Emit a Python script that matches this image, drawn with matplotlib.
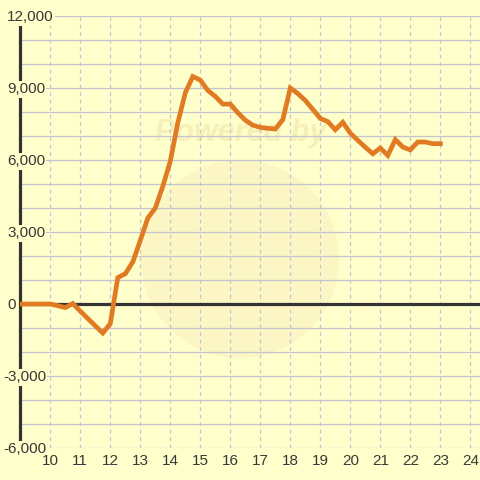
import matplotlib
matplotlib.use('Agg')
import matplotlib.pyplot as plt
from matplotlib.patches import Circle

hours = [9.0, 9.25, 9.5, 9.75, 10.0, 10.25, 10.5, 10.75, 11.0, 11.25, 11.5, 11.75,
         12.0, 12.25, 12.5, 12.75, 13.0, 13.25, 13.5, 13.75, 14.0, 14.25, 14.5, 14.75,
         15.0, 15.25, 15.5, 15.75, 16.0, 16.25, 16.5, 16.75, 17.0, 17.25, 17.5, 17.75,
         18.0, 18.25, 18.5, 18.75, 19.0, 19.25, 19.5, 19.75, 20.0, 20.25, 20.5, 20.75,
         21.0, 21.25, 21.5, 21.75, 22.0, 22.25, 22.5, 22.75, 23.0]
values = [0, 0, 0, 0, 0, -70, -150, 20, -300, -605, -910, -1210,
          -820, 1100, 1260, 1750, 2650, 3580, 4000, 4900, 5950, 7550, 8800, 9480,
          9330, 8900, 8650, 8330, 8330, 7970, 7660, 7450, 7360, 7320, 7290, 7680,
          9000, 8770, 8480, 8110, 7730, 7600, 7260, 7570, 7120, 6820, 6530, 6260,
          6500, 6190, 6850, 6540, 6420, 6750, 6750, 6680, 6680]
x_ticks = list(range(10, 25))
y_grid = list(range(-6000, 12001, 1000))
y_labels = [-6000, -3000, 0, 3000, 6000, 9000, 12000]

BG = '#FFFFCC'
TXT = '#383838'
GRID = '#C4C4CC'
plt.rcParams['font.family'] = ['Liberation Sans', 'DejaVu Sans']

fig = plt.figure(figsize=(4.8, 4.8), dpi=100, facecolor=BG)
W = 480.0

ax = fig.add_axes([20.3 / W, 1 - 448 / W, (480 - 20.3) / W, (448 - 16) / W])
ax.set_facecolor(BG)
ax.set_xlim(9, 9 + 459.7 / 30)
ax.set_ylim(-6000, 12000)
for s in ax.spines.values():
    s.set_visible(False)

# faint watermark
ax.add_patch(Circle((0.5, 1 - 259 / W), 99 / W, transform=fig.transFigure,
                    facecolor='#FCF6C4', edgecolor='none', zorder=0.1))
ax.text(241 / W, 1 - 133 / W, 'Powered by', transform=fig.transFigure,
        ha='center', va='center', fontsize=22, fontweight='bold', fontstyle='italic',
        color='#F7EFB8', zorder=0.2)

# grid drawn explicitly above the watermark
for gy in y_grid:
    ax.axhline(gy, color=GRID, lw=0.9, zorder=1)
for gx in x_ticks:
    ax.axvline(gx, color=GRID, lw=0.9, ls=(0, (3, 3)), zorder=1)

ax.set_yticks(y_grid)
ax.set_xticks(x_ticks)
ax.set_yticklabels([])
ax.tick_params(axis='y', length=0)
ax.tick_params(axis='x', length=0, pad=4, labelsize=11, labelcolor=TXT)
ax.xaxis.set_zorder(7)

ax.axhline(0, color='#333333', lw=2.3, zorder=3)
ax.axvline(9, color='#333333', lw=2.3, zorder=3, clip_on=False)

ax.plot(hours, values, color='#E07B24', lw=3.4, solid_joinstyle='miter', zorder=4)

for v in y_labels:
    px = 3 if v < 0 else 7
    ax.annotate(f'{v:,}', xy=((px - 20.3) / 459.7, v), xycoords=ax.get_yaxis_transform(),
                xytext=(0, -3.95), textcoords='offset points',
                ha='left', va='baseline', fontsize=11, color=TXT,
                annotation_clip=False, zorder=6,
                bbox=dict(facecolor=BG, edgecolor='none', pad=0.8))

fig.savefig('out.png', dpi=100, facecolor=BG)
